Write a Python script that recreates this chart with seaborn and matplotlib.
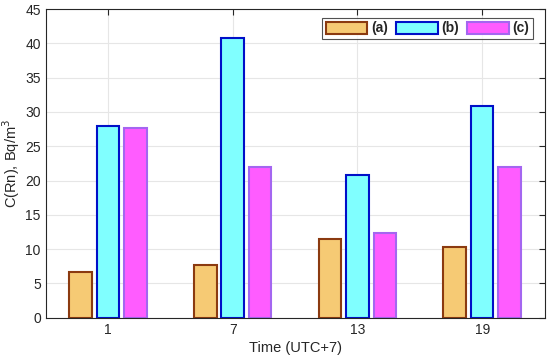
import pandas as pd
import matplotlib.pyplot as plt
import seaborn as sns
import numpy as np

times = ['1', '7', '13', '19']
series = ['(a)', '(b)', '(c)']
vals_a = [6.6, 7.7, 11.4, 10.3]
vals_b = [28.0, 40.8, 20.8, 30.8]
vals_c = [27.7, 22.0, 12.4, 22.0]

fills = ['#F6CA74', '#80FFFF', '#FF5CFF']
edges = ['#8B3A10', '#0010C8', '#A466F0']

df = pd.DataFrame({
    'Time': times * 3,
    'Series': [s for s in series for _ in times],
    'Value': vals_a + vals_b + vals_c,
})

sns.set_style('white')
plt.rcParams['font.family'] = ['Liberation Sans', 'DejaVu Sans']

fig, ax = plt.subplots(figsize=(5.5, 3.61), dpi=100)
sns.barplot(data=df, x='Time', y='Value', hue='Series', order=times,
            hue_order=series, palette=fills, saturation=1, width=0.66, gap=0.18,
            linewidth=1.5, ax=ax, legend=False)

for cont, ec in zip(ax.containers, edges):
    for bar in cont:
        bar.set_edgecolor(ec)
        bar.set_linewidth(1.5)

ax.set_xlim(-0.5, 3.5)
ax.set_ylim(0, 45)
ax.set_yticks(np.arange(0, 46, 5))
ax.grid(True, color='#e6e6e6', linewidth=0.8)
ax.set_axisbelow(True)
for sp in ax.spines.values():
    sp.set_visible(True)
    sp.set_color('#262626')
    sp.set_linewidth(0.8)
ax.tick_params(direction='in', top=True, right=True, length=4, labelsize=10,
               colors='#262626')
ax.set_xlabel('Time (UTC+7)', fontsize=10.5, color='#262626', labelpad=3)
ax.set_ylabel('C(Rn), Bq/m$^3$', fontsize=10.5, color='#262626', labelpad=2)

handles = [plt.Rectangle((0, 0), 1, 1, facecolor=f, edgecolor=e, linewidth=1.5)
           for f, e in zip(fills, edges)]
leg = ax.legend(handles, series, loc='upper right', ncol=3, frameon=True,
                fancybox=False, edgecolor='#262626', handlelength=3.0,
                handleheight=0.95, handletextpad=0.25, columnspacing=0.6,
                borderpad=0.25, borderaxespad=0.3,
                prop={'weight': 'bold', 'size': 10}, bbox_to_anchor=(0.985, 0.985))
leg.get_frame().set_linewidth(0.8)

plt.subplots_adjust(left=0.083, right=0.99, top=0.975, bottom=0.12)
plt.savefig('out.png', dpi=100)
